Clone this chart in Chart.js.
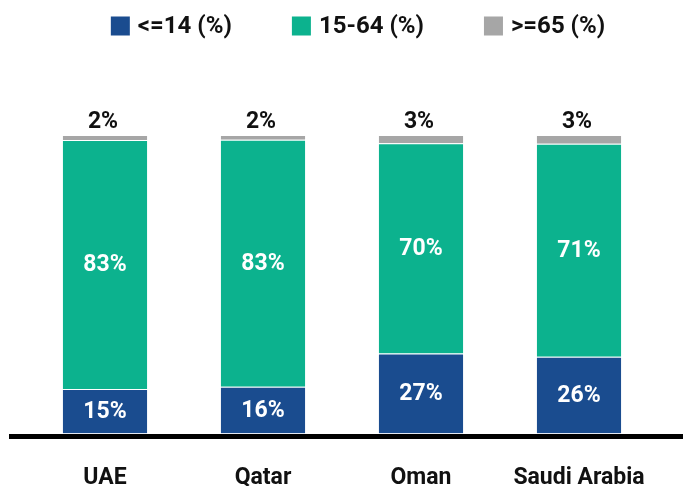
<!DOCTYPE html>
<html>
<head>
<meta charset="utf-8">
<script src="https://cdn.jsdelivr.net/npm/chart.js@4/dist/chart.umd.min.js"></script>
<style>
  html, body { margin: 0; padding: 0; background: #fff; }
  #wrap { width: 683px; height: 486px; }
</style>
</head>
<body>
<div id="wrap"><canvas id="chart"></canvas></div>
<script>
// values (share of population, %)
const categories = ["UAE", "Qatar", "Oman", "Saudi Arabia"];
const under14 = [14.9, 15.6, 26.8, 25.7];
const age15to64 = [83.4, 82.8, 70.4, 71.4];
const over65 = [1.7, 1.6, 2.8, 2.9];
const seriesNames = ["<=14 (%)", "15-64 (%)", ">=65 (%)"];

const FONT = "Roboto, 'DejaVu Sans', sans-serif";

// legend drawn across the top, boxes + text
const topLegend = {
  id: "topLegend",
  afterDraw(chart) {
    const ctx = chart.ctx;
    const sets = chart.data.datasets;
    ctx.save();
    ctx.font = "bold 24px " + FONT;
    ctx.textBaseline = "middle";
    const box = 19, gap = 8, spacing = 60;
    const widths = sets.map(ds => box + gap + ctx.measureText(ds.label).width);
    const total = widths.reduce((a, b) => a + b, 0) + spacing * (sets.length - 1);
    let x = 358 - total / 2;
    const y = 26;
    sets.forEach((ds, i) => {
      ctx.fillStyle = ds.backgroundColor;
      ctx.fillRect(x, y - box / 2, box, box);
      ctx.fillStyle = "#111";
      ctx.textAlign = "left";
      ctx.fillText(ds.label, x + box + gap, y + 1);
      x += widths[i] + spacing;
    });
    ctx.restore();
  }
};

// percentage labels: white inside the lower two segments, black above the top one
const segLabels = {
  id: "segLabels",
  afterDatasetsDraw(chart) {
    const ctx = chart.ctx;
    ctx.save();
    ctx.font = "bold 23px " + FONT;
    ctx.textAlign = "center";
    chart.data.datasets.forEach((ds, di) => {
      const meta = chart.getDatasetMeta(di);
      meta.data.forEach((bar, i) => {
        const txt = Math.round(ds.data[i]) + "%";
        if (di === 2) {
          ctx.fillStyle = "#111";
          ctx.textBaseline = "bottom";
          ctx.fillText(txt, bar.x - 2, bar.y - 1);
        } else {
          ctx.fillStyle = "#fff";
          ctx.textBaseline = "middle";
          ctx.fillText(txt, bar.x, (bar.y + bar.base) / 2 + 1);
        }
      });
    });
    ctx.restore();
  }
};

// thick black baseline
const baseLine = {
  id: "baseLine",
  afterDatasetsDraw(chart) {
    const ctx = chart.ctx;
    const y0 = chart.scales.y.getPixelForValue(0) + 3;
    ctx.save();
    ctx.strokeStyle = "#000";
    ctx.lineWidth = 5;
    ctx.beginPath();
    ctx.moveTo(9, y0);
    ctx.lineTo(chart.width, y0);
    ctx.stroke();
    ctx.restore();
  }
};

new Chart(document.getElementById("chart"), {
  type: "bar",
  data: {
    labels: categories,
    datasets: [
      { label: seriesNames[0], data: under14, backgroundColor: "#1A4C8F" },
      { label: seriesNames[1], data: age15to64, backgroundColor: "#0CB28E" },
      { label: seriesNames[2], data: over65, backgroundColor: "#A6A6A6" }
    ]
  },
  options: {
    responsive: true,
    maintainAspectRatio: false,
    animation: false,
    layout: { padding: { top: 135, left: 26, right: 25, bottom: -37 } },
    datasets: {
      bar: {
        categoryPercentage: 0.545,
        barPercentage: 1,
        borderWidth: 1,
        borderColor: "rgba(255,255,255,0.55)",
        borderSkipped: "bottom"
      }
    },
    scales: {
      x: {
        stacked: true,
        grid: { display: false, drawTicks: false },
        border: { display: false },
        ticks: {
          padding: 31,
          color: "#111",
          font: { family: FONT, size: 23, weight: "bold" }
        }
      },
      y: {
        stacked: true,
        display: false,
        min: 0,
        max: 100
      }
    },
    plugins: {
      legend: { display: false },
      tooltip: { enabled: false }
    }
  },
  plugins: [topLegend, segLabels, baseLine]
});
</script>
</body>
</html>
